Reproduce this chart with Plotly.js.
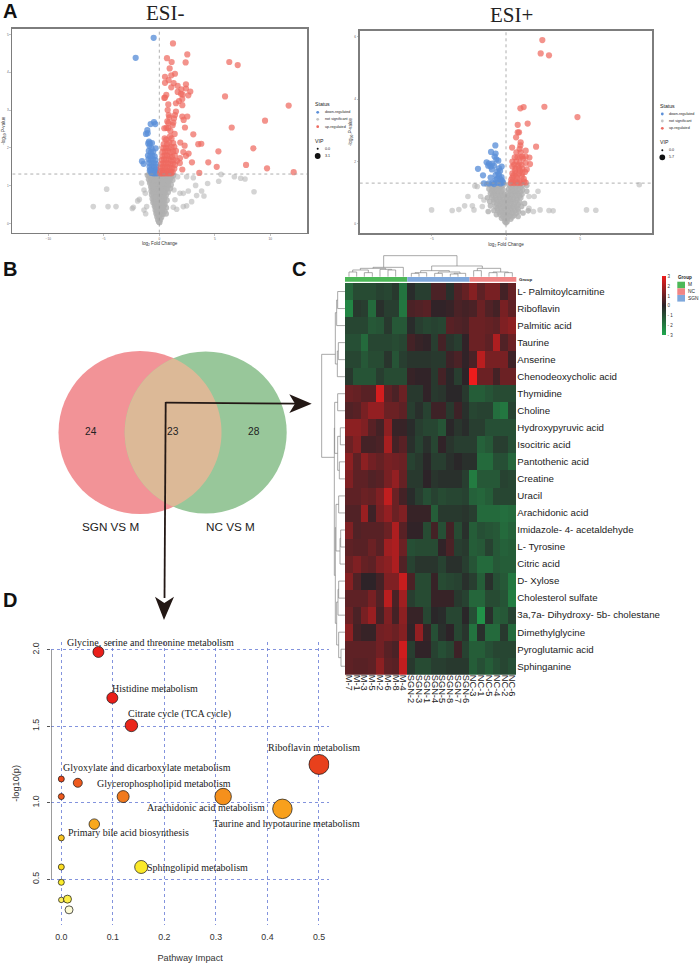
<!DOCTYPE html>
<html><head><meta charset="utf-8">
<script src="https://cdn.plot.ly/plotly-3.0.1.min.js"></script>
<style>html,body{margin:0;padding:0;background:#fff}</style></head>
<body><div id="chart" style="width:699px;height:963px"></div>
<script>
// ---------- Volcano ESI- (log2FC, -log10P) ----------
const negUp = [[1.23,4.76],[2.52,4.47],[2.37,4.26],[.69,4.37],[1.11,4.27],[6.3,4.27],[7.06,4.19],[.93,4.1],[1.41,3.96],[1.08,3.92],[.51,3.88],[.84,3.79],[.51,3.72],[1.29,3.71],[1.08,3.6],[1.65,3.64],[2.4,3.68],[2.4,3.57],[1.98,3.55],[1.65,3.48],[2.79,3.49],[1.95,3.43],[2.61,3.39],[2.1,3.41],[.63,3.4],[.51,3.33],[.45,3.32],[5.92,3.36],[1.77,3.24],[2.07,3.29],[1.5,3.18],[2.07,3.13],[.81,3.15],[11.65,3.12],[.75,3],[1.5,2.96],[1.41,2.87],[1.32,2.78],[1.26,2.67],[.85,2.87],[2.07,2.83],[2.52,2.83],[2.19,2.74],[9.52,2.72],[.9,2.81],[.82,2.66],[.72,2.7],[1.2,2.6],[.63,2.53],[.45,2.52],[.8,2.52],[1,2.45],[6.52,2.54],[2.31,2.54],[1.38,2.37],[3.06,2.36],[.48,2.25],[.95,2.3],[.62,2.22],[1.1,2.25],[.9,2.15],[.4,2.1],[.7,2.1],[1.25,2.13],[3.78,2.11],[3.51,2.1],[1.89,2.14],[2.28,2.06],[8.47,1.99],[5.32,1.91],[2.16,1.89],[2.64,1.85],[2.4,1.79],[1.86,1.73],[2.94,1.62],[4.41,1.62],[7.81,1.55],[5.17,1.5],[9.7,1.46],[3.6,1.34],[12.1,1.36],[2.07,1.43],[.35,2],[.6,2],[.85,2],[1.1,2.02],[1.35,2.03],[.3,1.9],[.52,1.9],[.75,1.92],[1,1.88],[1.25,1.9],[1.5,1.92],[.28,1.78],[.48,1.8],[.7,1.8],[.92,1.78],[1.15,1.76],[1.4,1.8],[.22,1.68],[.42,1.7],[.62,1.68],[.85,1.7],[1.08,1.66],[1.3,1.68],[1.6,1.66],[.18,1.58],[.38,1.6],[.58,1.58],[.78,1.6],[1,1.56],[1.22,1.58],[1.42,1.55],[1.85,1.6],[.12,1.48],[.3,1.5],[.5,1.48],[.7,1.5],[.92,1.48],[1.12,1.46],[1.35,1.45],[.1,1.38],[.25,1.4],[.42,1.38],[.6,1.4],[.8,1.38],[1,1.38],[1.2,1.36],[.08,1.33],[.2,1.33],[.35,1.33],[.5,1.33],[.68,1.33],[.88,1.33],[1.08,1.33]];
const negDown = [[-.51,4.91],[-2.13,4.38],[-.48,2.68],[-.78,2.63],[-.36,2.63],[-1.08,2.47],[-1.2,2.37],[-1.05,2.39],[-.93,2.17],[-.85,2.12],[-.66,2.13],[-1,2.12],[-.33,1.99],[-.88,2.05],[-.7,1.98],[-.95,1.92],[-.75,1.88],[-.55,1.9],[-1.02,1.8],[-.82,1.78],[-.62,1.8],[-.42,1.78],[-.98,1.7],[-.78,1.68],[-.58,1.7],[-.35,1.68],[-1.56,1.65],[-1.41,1.58],[-.9,1.6],[-.7,1.58],[-.5,1.6],[-.3,1.58],[-.88,1.5],[-.68,1.5],[-.48,1.48],[-.28,1.5],[-.8,1.42],[-.6,1.4],[-.4,1.4],[-.22,1.42],[-.72,1.34],[-.55,1.33],[-.38,1.33],[-.2,1.33],[-.62,1.37],[-.48,1.36],[-.32,1.36],[-.86,1.4]];
const negNsOuter = [[-4.74,.91],[-5.95,.45],[-4.62,.45],[-3.9,.45],[-2.34,.43],[-2.43,.4],[-1.8,.64],[-1.95,.6],[-1.59,1.07],[-1.38,.89],[-1.26,.8],[-1.14,.45],[-1.38,.36],[-1.23,.26],[1.65,1.24],[2.46,1.24],[3.06,1.21],[5.56,1.3],[5.35,1.12],[4.35,1.06],[6.76,1.24],[7.33,1.2],[7.72,1.18],[8.53,.84],[3.27,1.01],[3.81,.86],[2.61,.86],[3.36,.74],[4.02,.73],[2.91,.58],[2.46,.47],[2.16,.45],[1.86,.8],[2.16,.8],[1.32,.89],[1.41,.63],[1.26,.43],[1.56,.38]];
const negNsCore = [[-1.05,1.28],[-.9,1.27],[-.75,1.29],[-.6,1.27],[-.45,1.28],[-.3,1.26],[-.15,1.28],[.15,1.27],[.3,1.29],[.45,1.26],[.6,1.28],[.75,1.27],[.9,1.29],[1.1,1.26],[1.25,1.27],[-.95,1.17],[-.7,1.19],[-.5,1.16],[-.3,1.18],[-.12,1.17],[.1,1.19],[.3,1.16],[.5,1.18],[.7,1.17],[.95,1.16],[1.2,1.15],[-.85,1.07],[-.62,1.05],[-.42,1.08],[-.22,1.05],[-.05,1.07],[.18,1.06],[.38,1.08],[.6,1.05],[.82,1.07],[1.05,1.03],[-.75,.97],[-.55,.95],[-.35,.97],[-.15,.94],[.08,.96],[.28,.94],[.48,.97],[.72,.95],[.98,.93],[-.72,.86],[-.5,.84],[-.3,.87],[-.1,.85],[.12,.86],[.32,.84],[.52,.86],[.78,.83],[-.68,.76],[-.45,.74],[-.25,.76],[-.05,.74],[.15,.76],[.35,.73],[.6,.75],[-.62,.66],[-.4,.64],[-.2,.66],[0,.64],[.2,.65],[.42,.63],[.68,.62],[-.55,.56],[-.33,.54],[-.13,.56],[.08,.55],[.28,.54],[.5,.52],[-.42,.46],[-.22,.45],[-.02,.46],[.18,.44],[.38,.45],[.62,.42],[-.35,.36],[-.15,.35],[.05,.36],[.25,.35],[.48,.33],[-.28,.27],[-.08,.26],[.12,.27],[.32,.25],[.6,.26],[-.2,.18],[-.02,.18],[.18,.17],[-.12,.1],[.08,.1],[-.04,.05],[.02,.03],
[-.82,1.22],[-.58,1.23],[-.38,1.22],[-.2,1.23],[.22,1.22],[.4,1.23],[.62,1.22],[.82,1.21],[1.02,1.22],[-.8,1.12],[-.6,1.11],[-.4,1.13],[-.2,1.11],[.02,1.12],[.22,1.11],[.42,1.13],[.62,1.11],[.85,1.12],[-.68,1.01],[-.48,1.02],[-.28,1.01],[-.08,1.02],[.13,1.01],[.33,1.02],[.55,1.01],[.78,1],[-.62,.91],[-.42,.9],[-.22,.91],[-.02,.9],[.2,.91],[.4,.9],[.6,.9],[-.58,.81],[-.38,.8],[-.18,.81],[.03,.8],[.24,.8],[.44,.8],[-.52,.7],[-.32,.7],[-.12,.7],[.08,.7],[.28,.69],[.48,.69],[-.48,.6],[-.28,.6],[-.08,.6],[.14,.6],[.34,.59],[-.38,.5],[-.18,.5],[.02,.5],[.22,.5],[.42,.49],[-.28,.41],[-.08,.41],[.12,.41],[.32,.4],[-.22,.31],[-.02,.31],[.18,.31],[.08,.22],[-.1,.22]];
// ---------- Volcano ESI+ ----------
const posUp = [[2.45,5.9],[2.34,5.47],[2.9,5.41],[2.59,3.76],[1.19,3.75],[.97,3.71],[4.82,3.43],[1.46,3.22],[.79,3.18],[.88,2.94],[.79,2.94],[.68,2.78],[.99,2.62],[.97,2.52],[2.03,2.48],[.41,2.45],[.92,2.41],[1.33,2.35],[.7,2.3],[.99,2.3],[1.1,2.16],[1.33,2.16],[1.58,2.13],[.59,2.14],[.77,2.14],[.95,2.14],[1.15,2.1],[.43,2],[.7,2],[.92,1.96],[1.33,1.96],[1.62,1.92],[.43,1.84],[.65,1.78],[.88,1.78],[1.1,1.78],[1.4,1.75],[1.28,1.67],[.43,1.62],[.65,1.62],[.88,1.62],[1.1,1.62],[.43,1.49],[.77,1.46],[1.06,1.52],[.43,1.36],[.65,1.36],[.92,1.36],[1.22,1.36],[.32,1.31],[.54,1.31],[.77,1.31],[.99,1.31],[1.33,1.33],[.55,1.9],[.8,1.88],[1.05,1.9],[.6,1.7],[.95,1.7],[1.2,1.45],[.7,1.52],[.35,1.42],[.5,1.55]];
const posDown = [[-.72,2.52],[-1.01,2.31],[-.7,2.26],[-.77,2.16],[-.65,2.07],[-.52,2.03],[-1.31,1.98],[-1.15,1.94],[-.92,1.94],[-1.2,1.87],[-1.04,1.84],[-.81,1.87],[-.29,1.84],[-.47,1.78],[-.59,1.68],[-1.89,1.77],[-1.55,1.56],[-1.04,1.49],[-.7,1.57],[-.47,1.52],[-.7,1.41],[-.36,1.43],[-.92,1.32],[-.59,1.32],[-1.15,1.3],[-1.49,1.3],[-.36,1.3],[-.2,1.33],[-.81,1.28],[-.5,1.6],[-.3,1.5],[-.25,1.38],[-.6,1.45],[-.4,1.7],[-.95,1.75]];
const posNsOuter = [[8.99,1.26],[-5.02,.45],[-3.63,.43],[-3.18,.46],[-2.79,.58],[-2.57,.88],[-2.27,.58],[-2.16,.45],[-1.71,.88],[-1.49,.77],[-1.6,.56],[-1.94,1.2],[-2.1,1.22],[5.43,.45],[6.06,.44],[3.18,.42],[2.9,.43],[2.3,.45],[2.16,1.05],[1.55,.88],[1.9,.88],[1.55,.5],[1.85,.4]];
const posNsCore = [[-1.3,1.27],[-1.05,1.25],[-.85,1.27],[-.62,1.25],[-.4,1.26],[-.2,1.24],[.2,1.26],[.42,1.24],[.65,1.27],[.9,1.25],[1.15,1.26],[1.4,1.23],[-1.15,1.12],[-.9,1.14],[-.68,1.11],[-.45,1.13],[-.22,1.1],[.18,1.12],[.4,1.1],[.62,1.13],[.85,1.11],[1.12,1.1],[1.4,1.05],[-1.05,.98],[-.8,1],[-.58,.97],[-.35,.99],[-.15,.96],[.12,.98],[.35,.96],[.58,.99],[.82,.97],[1.08,.95],[-1.25,.84],[-.95,.86],[-.7,.83],[-.45,.85],[-.22,.82],[.08,.85],[.28,.83],[.5,.85],[.72,.82],[1,.84],[-1.1,.72],[-.82,.7],[-.55,.72],[-.3,.7],[-.08,.72],[.15,.7],[.38,.72],[.62,.69],[.92,.7],[1.25,.66],[-1.05,.58],[-.7,.56],[-.45,.58],[-.22,.56],[0,.58],[.22,.55],[.45,.57],[.72,.55],[1.05,.56],[1.5,.42],[-1.2,.4],[-.82,.43],[-.55,.44],[-.32,.42],[-.1,.44],[.12,.42],[.35,.44],[.58,.42],[.85,.4],[1.15,.35],[-.65,.3],[-.38,.29],[-.15,.31],[.08,.3],[.3,.28],[.55,.27],[.82,.24],[-.3,.18],[-.1,.17],[.12,.18],[.32,.15],[-.08,.08],[.08,.07],[0,.04],
[-.95,1.2],[-.72,1.19],[-.52,1.2],[-.32,1.19],[.3,1.19],[.52,1.2],[.75,1.19],[1,1.18],[-.98,1.06],[-.78,1.06],[-.55,1.05],[-.3,1.05],[.28,1.05],[.5,1.05],[.72,1.04],[.98,1.03],[-.92,.92],[-.68,.92],[-.48,.92],[-.26,.91],[-.05,.93],[.2,.92],[.44,.92],[.68,.91],[.92,.9],[-.82,.78],[-.62,.78],[-.38,.78],[-.15,.78],[.05,.78],[.28,.78],[.5,.78],[.75,.77],[-.62,.64],[-.4,.64],[-.15,.64],[.08,.64],[.32,.64],[.55,.63],[.82,.62],[-.58,.5],[-.35,.5],[-.12,.5],[.1,.5],[.32,.5],[.55,.5],[.8,.48],[-.45,.36],[-.22,.36],[0,.36],[.22,.36],[.44,.35],[.68,.34],[-.2,.24],[0,.24],[.2,.24],[.42,.22]];

// ---------- Heatmap ----------
const sampleLabels = ["M-7","M-1","M-3","M-5","M-2","M-6","M-8","M-4","SGN-2","SGN-3","SGN-1","SGN-4","SGN-5","SGN-8","SGN-7","SGN-6","NC-3","NC-1","NC-5","NC-4","NC-2","NC-6"];
const metabolites = ["L- Palmitoylcarnitine","Riboflavin","Palmitic acid","Taurine","Anserine","Chenodeoxycholic acid","Thymidine","Choline","Hydroxypyruvic acid","Isocitric acid","Pantothenic acid","Creatine","Uracil","Arachidonic acid","Imidazole- 4- acetaldehyde","L- Tyrosine","Citric acid","D- Xylose","Cholesterol sulfate","3a,7a- Dihydroxy- 5b- cholestane","Dimethylglycine","Pyroglutamic acid","Sphinganine"];
const heatValues = [
[-1.5,-.9,-.9,-.9,-.7,-.8,-.5,-1.8,-.2,-.6,-.6,.5,.5,-.3,.6,.9,1.4,.8,1.2,1.2,.4,.9],
[-2.2,-.5,-.6,-1.6,-.3,-.6,-.6,-1.9,.5,.6,.7,.1,.1,.2,.5,.4,.5,1,.6,.4,1.2,.8],
[-.8,-.8,-.8,-1.2,-1.1,-.5,-1.2,-1.2,-.2,-.6,-.8,-.7,-.8,.7,.6,.5,1,1,.9,.8,1.3,1.5],
[-1,-1,-1.6,-.8,-.8,-.8,-.9,-.8,.4,.2,.1,-.6,.4,-.4,-.6,.1,1,1,.8,2,.6,1],
[-.8,-.8,-1.2,-.9,-.9,-.4,-1.1,-.6,-.4,-.4,-.4,-.5,-.5,.3,.5,.1,.5,2.2,1.2,1.2,1.2,.3],
[-.5,-1.1,-1.1,-1.1,-.6,-.9,-.9,-.9,.2,.1,.1,-.5,.4,-.1,-.6,.05,3,1,1,.4,1,1],
[1,.9,.7,.7,2.6,.8,.5,1,-.5,-.5,.1,-.5,-.4,-.1,-.1,-.5,-1.3,-1.3,-1.1,-.9,-.9,-.9],
[.6,.7,1.2,1.6,1.6,1,1,.8,-.6,-.3,-.7,.3,.3,-.5,.3,-.3,-.8,-.7,-.7,-1.7,-1.9,-.7],
[1.5,1.5,1.3,.7,.4,1.5,.2,.2,-.2,-.6,-.8,-.8,-1.1,-.1,-.4,-.2,-.6,-.6,-1,-1,-1,-1],
[1,1.4,.4,.4,.5,1.9,.4,.7,-.3,-.7,-.3,-.8,.1,-.4,-.6,-.6,-.6,-1.4,-1.2,-.6,-.6,-1],
[1.5,.8,1.5,1.1,.9,1.2,1.1,1,-.7,-.5,-.1,-.6,-.6,-.3,-.1,-.3,-.3,-1.6,-1.6,-1,-1,-1.5],
[1.3,.8,.8,.6,.7,1.2,1.6,.9,-.5,-.5,.05,-.4,-.3,-.3,-.3,-.6,-2,-1.2,-1.2,-1.2,-.7,-.8],
[.8,.8,1,.9,1.3,2.3,1,.4,-.2,-.6,-1,-.7,-.9,-.8,-.8,-.7,-1.4,-1.5,-1.3,-.8,-.8,-.8],
[.6,.6,1.7,.3,1.2,1.6,1,1.3,.2,.2,.2,-1.3,-.5,-.5,-.5,-.4,-.6,-1.6,-1.6,-1.6,-1.7,-1.6],
[1.3,.6,.7,.7,.7,1,2,.7,.1,.1,-.9,.4,-1,.4,-.9,-.3,-1.3,-1,-1.1,-1.2,-1.6,-1.4],
[.8,.7,.7,1,.7,1.8,2,1,-1,-.9,-.9,-.9,.1,.5,-.6,-.5,-1.3,-1.2,-.7,-1.2,-1.4,-1.3],
[1,1.3,.9,.8,1.3,1.5,2,.6,-.7,-.4,-.4,-.4,-.7,-.3,-.3,-.6,-1.1,-1.6,-1.6,-1.2,-1.3,-1.3],
[1.4,.6,.05,.05,.4,1.3,1.3,2.4,.5,-.9,-.9,.2,-.9,-.8,-.7,-.3,-.6,-1.3,-.3,-1,-1.2,-1.9],
[.8,.8,.8,1.2,.6,2.2,.5,1.8,-.6,-.9,-.9,.2,.2,.2,-.5,-.7,-1.5,-1.5,-.9,-.9,-1.1,-2],
[1,.5,1.2,1.7,.4,1.3,.4,1.5,.2,.2,-.8,-.1,-.2,-.8,-.8,-.1,-1,-2.5,-.3,-1.3,-1.2,-.7],
[1.5,.4,.2,.2,1.1,1.2,1,1.4,.1,1.6,.2,-1,-.3,.05,-.8,-.4,-1.8,-.3,-1.6,-1.6,-.5,-1.6],
[.8,.8,.8,.8,1.1,.7,.5,2.5,-.6,.1,.1,-.7,-1,-.8,.3,-.7,-1.3,-1.3,-1,-.8,-.8,-.8],
[.8,.7,.7,.8,1.5,.8,.7,2.3,-.5,-.9,-.9,-.6,-.6,-.5,-.5,-.5,-1.3,-1,-1.3,-1,-.8,-1]];

// ---------- Pathway bubbles ----------
const pathImpact = [.072,.099,.136,.5,0,.032,0,.12,.314,.429,.064,0,0,.155,0,0,.012,.015];
const pathLogP   = [1.985,1.685,1.505,1.25,1.155,1.13,1.04,1.04,1.04,.96,.86,.77,.58,.58,.48,.365,.37,.30];
const pathSize   = [11,11,12.5,20,6,9,6,12,16.5,19.5,10.5,6,6,13,6,5.5,8,8];
const pathColor  = ["#ea1f1a","#ea1f1a","#ea261a","#e8401c","#ee4a1c","#ee5a1e","#ee5a1e","#f07a1e","#f5901c","#f8a01c","#f8a81c","#fbc420","#fcdc22","#fbe92a","#fbec2c","#fcee5a","#fcee48","#fdfbd6"];
const pathLabels = [["Glycine, serine and threonine metabolism",150,642.3],["Histidine metabolism",155,688.7],["Citrate cycle (TCA cycle)",179.3,714],["Riboflavin metabolism",314.3,747.7],["Glyoxylate and dicarboxylate metabolism",147,767],["Glycerophospholipid metabolism",164.3,783],["Arachidonic acid metabolism",206,807],["Taurine and hypotaurine metabolism",286.7,823],["Primary bile acid biosynthesis",128.3,832],["Sphingolipid metabolism",197.7,867.3]];

// ---------- Venn counts ----------
const vennCounts = [["24",91],["23",172.7],["28",254]];

// ---------- helpers (page pixels -> paper) ----------
const W=699,H=963, PX=x=>x/W, PY=y=>1-y/H;
const dom=(a,b)=>[a/W,b/W], domY=(top,bot)=>[1-bot/H,1-top/H];
const BLUE="#5b8fd8",RED="#ee6a60",GRAY="#b0b0b0",SANS="Liberation Sans, Arial, sans-serif",SERIF="Liberation Serif, Times New Roman, serif";
const col=(a,i)=>a.map(p=>p[i]);
function volcTrace(pts,c,ax,ay,size,op){return {type:"scatter",mode:"markers",x:col(pts,0),y:col(pts,1),xaxis:ax,yaxis:ay,marker:{color:c,size:size,opacity:op,line:{width:0}},hoverinfo:"skip"};}

const data=[
 volcTrace(negNsOuter,GRAY,"x","y",5.6,.55), volcTrace(negNsCore,GRAY,"x","y",6,.8), volcTrace(negDown,BLUE,"x","y",6.2,.78), volcTrace(negUp,RED,"x","y",6.2,.72),
 volcTrace(posNsOuter,GRAY,"x2","y2",5.6,.55), volcTrace(posNsCore,GRAY,"x2","y2",5.6,.8), volcTrace(posDown,BLUE,"x2","y2",6.2,.78), volcTrace(posUp,RED,"x2","y2",6.2,.72),
 {type:"heatmap",x:sampleLabels,y:metabolites,z:heatValues,xaxis:"x3",yaxis:"y3",zmin:-3,zmax:3,
  colorscale:[[0,"#1fa84e"],[.5,"#2a2328"],[1,"#ee1c1c"]],
  colorbar:{x:662.3/W,xanchor:"left",y:PY(335.3),yanchor:"bottom",len:58.6,lenmode:"pixels",thickness:3.8,thicknessmode:"pixels",xpad:0,ypad:0,outlinewidth:0,borderwidth:0,tickvals:[-3,-2,-1,0,1,2,3],ticktext:["- 3","- 2","- 1","0","1","2","3"],ticks:"",tickfont:{size:4.5,family:SANS,color:"#333"}}},
 {type:"scatter",mode:"lines",x:[-.02,-.02],y:[.5,2],xaxis:"x4",yaxis:"y4",cliponaxis:false,line:{color:"#666",width:1.3},hoverinfo:"skip"},
 {type:"scatter",mode:"markers",x:pathImpact,y:pathLogP,xaxis:"x4",yaxis:"y4",marker:{color:pathColor,size:pathSize,line:{color:"#111",width:.7},opacity:1},hoverinfo:"skip"}
];

function volcAxis(d,range,tv,anchor){return {domain:d,range:range,anchor:anchor,tickvals:tv,showgrid:false,zeroline:false,showline:true,mirror:true,linecolor:"#7d7d7d",linewidth:1.5,ticks:"outside",ticklen:1.5,tickwidth:.5,tickcolor:"#888",tickfont:{size:3.2,family:SANS,color:"#666"}};}
const layout={width:W,height:H,margin:{l:0,r:0,t:0,b:0},autosize:false,showlegend:false,paper_bgcolor:"#fff",plot_bgcolor:"#fff",font:{family:SANS},
 xaxis:Object.assign(volcAxis(dom(12.3,307),[-13.24,13.3],[-10,-5,0,5,10],"y"),{title:{text:"log<sub>2</sub> Fold Change",font:{size:4.6,color:"#333",family:SANS},standoff:2}}),
 yaxis:Object.assign(volcAxis(domY(28.7,232.7),[-.24,5.15],[0,1,2,3,4,5],"x"),{title:{text:"-log<sub>10</sub> <i>P</i>-value",font:{size:4.6,color:"#333",family:SANS},standoff:1}}),
 xaxis2:Object.assign(volcAxis(dom(359.7,652.3),[-9.87,9.87],[-5,0,5],"y2"),{title:{text:"log<sub>2</sub> Fold Change",font:{size:4.6,color:"#333",family:SANS},standoff:2}}),
 yaxis2:Object.assign(volcAxis(domY(30.7,233.3),[-.3,6.2],[0,2,4,6],"x2"),{title:{text:"-log<sub>10</sub> <i>P</i>-value",font:{size:4.6,color:"#333",family:SANS},standoff:1}}),
 xaxis3:{domain:dom(345,516.3),anchor:"y3",type:"category",tickangle:90,ticks:"",tickfont:{size:9.3,family:SANS,color:"#222"},ticklabelstandoff:-1,showgrid:false,zeroline:false,tickmode:"array",tickvals:sampleLabels,ticktext:sampleLabels},
 yaxis3:{domain:domY(283,674.7),anchor:"x3",type:"category",side:"right",autorange:"reversed",ticks:"",tickfont:{size:9.7,family:SANS,color:"#222"},showgrid:false,zeroline:false,tickmode:"array",tickvals:metabolites,ticktext:metabolites},
 xaxis4:{domain:dom(51,329.3),range:[-.02,.52],anchor:"y4",tickvals:[0,.1,.2,.3,.4,.5],ticktext:["0.0","0.1","0.2","0.3","0.4","0.5"],showgrid:true,griddash:"dot",gridcolor:"#6478d4",gridwidth:.8,zeroline:false,showline:false,ticks:"",tickfont:{size:8.8,family:SANS,color:"#333"},ticklabelstandoff:5,title:{text:"Pathway Impact",font:{size:9.2,family:SANS,color:"#333"},standoff:13}},
 yaxis4:{domain:domY(641.7,925),range:[.201,2.052],anchor:"x4",tickvals:[.5,1,1.5,2],ticktext:["0.5","1.0","1.5","2.0"],tickangle:-90,showgrid:true,griddash:"dot",gridcolor:"#6478d4",gridwidth:.8,zeroline:false,showline:false,ticks:"outside",ticklen:3,tickcolor:"#555",tickfont:{size:8.8,family:SANS,color:"#333"},ticklabelstandoff:4,title:{text:"-log10(p)",font:{size:9.2,family:SANS,color:"#333"},standoff:10}},
 shapes:[],annotations:[]
};
function txt(t,x,y,size,o){layout.annotations.push(Object.assign({text:t,xref:"paper",yref:"paper",x:PX(x),y:PY(y),showarrow:false,xanchor:"center",yanchor:"middle",font:{size:size,family:SANS,color:"#222"},borderpad:0},o||{}));}
function path(d,o){layout.shapes.push(Object.assign({type:"path",xref:"paper",yref:"paper",path:d,line:{width:0},layer:"above"},o||{}));}
function P(pts,close){return pts.map((p,i)=>(i?"L":"M")+PX(p[0]).toFixed(5)+","+PY(p[1]).toFixed(5)).join(" ")+(close?" Z":"");}
function rect(x0,y0,x1,y1,c){layout.shapes.push({type:"rect",xref:"paper",yref:"paper",x0:PX(x0),x1:PX(x1),y0:PY(y0),y1:PY(y1),fillcolor:c,line:{width:0},layer:"above"});}
function dot(x,y,d,c){layout.shapes.push({type:"circle",xref:"paper",yref:"paper",x0:PX(x-d/2),x1:PX(x+d/2),y0:PY(y+d/2),y1:PY(y-d/2),fillcolor:c,line:{width:0},layer:"above"});}

// reference lines in the volcano plots
[["x","y",-13.24,13.3,-.24,5.15],["x2","y2",-9.87,9.87,-.3,6.2]].forEach(a=>{
 const l={color:"#9a9a9a",width:.8,dash:"dot"};
 layout.shapes.push({type:"line",xref:a[0],yref:a[1],x0:a[2],x1:a[3],y0:1.31,y1:1.31,line:l,layer:"above"});
 layout.shapes.push({type:"line",xref:a[0],yref:a[1],x0:0,x1:0,y0:a[4],y1:a[5],line:l,layer:"above"});
});
// volcano legends
function volcLegend(x0,dx,tx,ys,vip){
 txt("Status",x0,ys[0],5.2,{xanchor:"left",font:{size:5.2,family:SANS,color:"#222"}});
 [[BLUE,"down-regulated"],["#c4c4c4","not significant"],[RED,"up-regulated"]].forEach((r,i)=>{dot(dx,ys[1+i],2.8,r[0]);txt(r[1],tx,ys[1+i],3.7,{xanchor:"left"});});
 txt("VIP",x0,ys[4],5.2,{xanchor:"left"});
 dot(dx,ys[5],2,"#111");txt("0.0",tx,ys[5],3.7,{xanchor:"left"});
 dot(dx,ys[6],5.8,"#111");txt(vip,tx,ys[6],3.7,{xanchor:"left"});
}
volcLegend(314,317.7,323.7,[104.3,112.3,119.3,126.7,141.3,148.7,156],"3.1");
volcLegend(659,662.3,668.3,[106,114,121,128.3,142.3,150.3,157.3],"5.7");
// titles and panel letters
txt("ESI-",165,13,21,{font:{size:21,family:SERIF,color:"#222"}});
txt("ESI+",511.7,15,21,{font:{size:21,family:SERIF,color:"#222"}});
[["A",10,11],["B",10,269],["C",299,269],["D",10,600]].forEach(a=>txt("<b>"+a[0]+"</b>",a[1],a[2],20,{font:{size:20,family:SANS,color:"#111"}}));

// Venn
const vL=[140,432.5,81.5],vR=[205.7,432.5,81];
layout.shapes.push({type:"circle",xref:"paper",yref:"paper",x0:PX(vL[0]-vL[2]),x1:PX(vL[0]+vL[2]),y0:PY(vL[1]+vL[2]),y1:PY(vL[1]-vL[2]),fillcolor:"#f29397",line:{width:0},layer:"below"});
layout.shapes.push({type:"circle",xref:"paper",yref:"paper",x0:PX(vR[0]-vR[2]),x1:PX(vR[0]+vR[2]),y0:PY(vR[1]+vR[2]),y1:PY(vR[1]-vR[2]),fillcolor:"#98c79a",line:{width:0},layer:"below"});
(function(){const pts=[];const a1=Math.acos(32.85/vL[2]),a2=Math.acos(32.85/vR[2]);
 for(let i=0;i<=40;i++){const t=-a1+2*a1*i/40;pts.push([vL[0]+vL[2]*Math.cos(t),vL[1]+vL[2]*Math.sin(t)]);}
 for(let i=0;i<=40;i++){const t=Math.PI-a2+2*a2*i/40;pts.push([vR[0]+vR[2]*Math.cos(t),vR[1]+vR[2]*Math.sin(t)]);}
 path(P(pts,true),{fillcolor:"#dcb997",layer:"below"});})();
vennCounts.forEach(v=>txt(v[0],v[1],431.7,10.2));
txt("SGN VS M",110.3,526.7,11.7);txt("NC VS M",230.3,526.7,11.7);
// arrows
const AC="#231815";
path(P([[165.7,402.7],[296,403.7]]),{line:{color:AC,width:1.8}});
path(P([[165.7,402],[164.5,598]]),{line:{color:AC,width:1.8}});
path(P([[311.7,403.7],[289.3,394.3],[295,403.7],[289.3,413]],true),{fillcolor:AC});
path(P([[164,620],[155,596.7],[164.3,603],[174,596.7]],true),{fillcolor:AC});

// group bar
rect(345,277,407.3,281.7,"#4db858");rect(407.3,277,469.6,281.7,"#7fa8dc");rect(469.6,277,516.3,281.7,"#f08585");
txt("<b>Group</b>",518,279.5,4.4,{xanchor:"left"});
// group legend
txt("<b>Group</b>",677,278,4.6,{xanchor:"left"});
[["#4db858","M",281.7],["#f08585","NC",288.3],["#7fa8dc","SGN",295]].forEach(g=>{rect(677.3,g[2],685,g[2]+6.6,g[0]);txt(g[1],687,g[2]+3.3,4.8,{xanchor:"left"});});

// dendrograms
const DC="#858585";
const topU=[[147,170,66,80,80],[193,217,68,80,80],[158,205,60,66,68],[264,287,60,80,80],[240,275,58,80,60],[181,257,55,60,58],[219,310,52,55,80],[334,357,70,80,80],[345,380,68,70,80],[404,427,70,80,80],[451,474,72,80,80],[462,497,70,72,80],[415,480,66,70,70],[362,448,62,68,66],[521,544,62,80,80],[567,591,68,80,80],[614,637,68,80,80],[579,625,66,68,68],[532,602,55,62,66],[395,547,48,62,55],[251,471,17,52,48]];
topU.forEach(u=>{const T=(x,y)=>[300+x/3,250+y/3];path(P([T(u[0],u[3]),T(u[0],u[2]),T(u[1],u[2]),T(u[1],u[4])]),{line:{color:DC,width:.7}});});
const R=metabolites.map((_,i)=>39+51.1*(i+.5));
const leftU=[[R[0],R[1],113,135,135],[90,R[2],110,113,135],[R[3],R[4],115,135,135],[243,R[5],112,115,135],[128,282,106,110,112],[R[6],R[7],113,135,135],[R[8],R[9],121,135,135],[R[10],R[11],118,135,135],[499,601,113,121,118],[397,550,104,113,113],[R[12],R[13],116,135,135],[R[14],R[15],122,135,135],[805,R[16],120,122,135],[703,843,108,116,120],[R[17],R[18],116,135,135],[958,R[19],114,116,135],[R[21],R[22],123,135,135],[R[20],1163,116,135,123],[996,1125,110,114,116],[773,1060,106,108,110],[474,916,103,104,106],[253,562,65,106,103]];
leftU.forEach(u=>{const T=(x,y)=>[300+x/3,270+y/3];path(P([T(u[3],u[0]),T(u[2],u[0]),T(u[2],u[1]),T(u[4],u[1])]),{line:{color:DC,width:.7}});});

// pathway labels
pathLabels.forEach(l=>txt(l[0],l[1],l[2],10,{font:{size:10,family:SERIF,color:"#222"}}));

Plotly.newPlot("chart",data,layout,{displayModeBar:false,staticPlot:true});
</script></body></html>
